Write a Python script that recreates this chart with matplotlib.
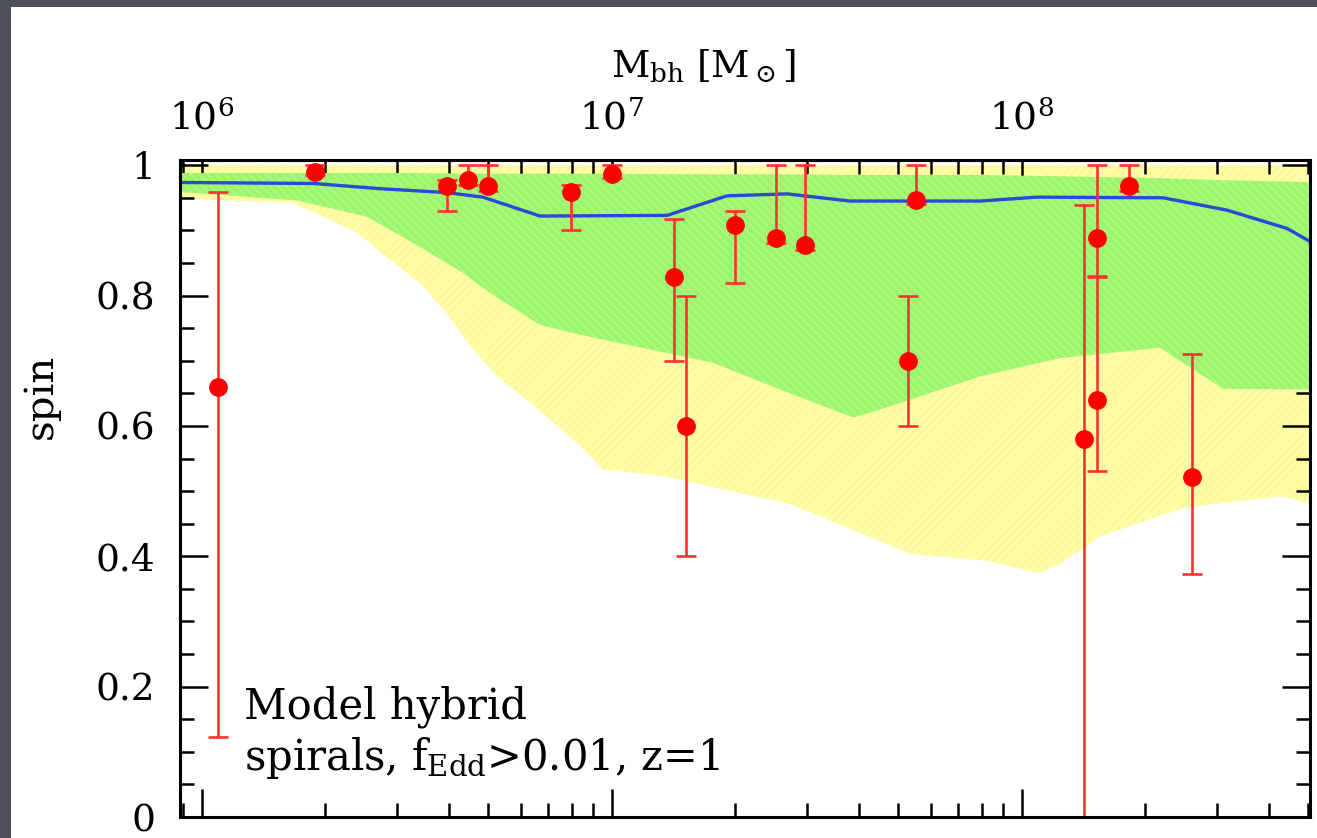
import numpy as np
import matplotlib
matplotlib.use("Agg")
import matplotlib.pyplot as plt
from matplotlib.patches import Rectangle
from matplotlib.ticker import LogLocator, LogFormatterMathtext, MultipleLocator, NullFormatter

plt.rcParams['font.family'] = ['DejaVu Serif']
plt.rcParams['mathtext.fontset'] = 'dejavuserif'
plt.rcParams['hatch.linewidth'] = 0.8

# model bands, log10(M_bh) and spin
yellow_logm = [5.947, 6.223, 6.289, 6.379, 6.452, 6.532, 6.598, 6.662, 6.720, 6.801,
               6.923, 6.979, 7.125, 7.435, 7.732, 7.918, 8.040, 8.100, 8.193, 8.398,
               8.635, 8.703]
yellow_lo = [0.949, 0.942, 0.923, 0.896, 0.859, 0.819, 0.773, 0.717, 0.676, 0.636,
             0.569, 0.533, 0.523, 0.480, 0.403, 0.393, 0.374, 0.391, 0.431, 0.475,
             0.492, 0.480]
yellow_hi = [1.0] * len(yellow_logm)

green_logm = [5.947, 6.232, 6.403, 6.515, 6.637, 6.703, 6.825, 6.923, 7.247, 7.410,
              7.589, 7.654, 7.898, 8.093, 8.337, 8.491, 8.703]
green_lo = [0.959, 0.946, 0.921, 0.881, 0.835, 0.804, 0.755, 0.740, 0.697, 0.656,
            0.613, 0.625, 0.676, 0.704, 0.720, 0.657, 0.656]
green_hi = [0.988, 0.988, 0.988, 0.988, 0.987, 0.987, 0.987, 0.987, 0.986, 0.986,
            0.985, 0.985, 0.985, 0.983, 0.980, 0.977, 0.974]

# median spin
med_logm = [5.947, 6.272, 6.435, 6.598, 6.686, 6.825, 7.135, 7.281, 7.428, 7.581,
            7.898, 8.037, 8.345, 8.501, 8.647, 8.703]
med_spin = [0.9735, 0.972, 0.964, 0.958, 0.951, 0.922, 0.923, 0.953, 0.956, 0.945,
            0.945, 0.951, 0.950, 0.931, 0.903, 0.883]

# observed spins
obs_logm = [6.039, 6.277, 6.598, 6.650, 6.699, 6.900, 7.000, 7.152, 7.182, 7.301,
            7.401, 7.472, 7.723, 7.741, 8.152, 8.183, 8.183, 8.262, 8.415]
obs_spin = [0.66, 0.99, 0.968, 0.978, 0.968, 0.959, 0.987, 0.829, 0.60, 0.908,
            0.889, 0.878, 0.70, 0.947, 0.58, 0.889, 0.64, 0.968, 0.521]
obs_lo = [0.123, 0.985, 0.93, 0.97, 0.96, 0.90, 0.98, 0.70, 0.40, 0.819,
          0.88, 0.87, 0.60, 0.94, 0.0, 0.83, 0.531, 0.96, 0.373]
obs_hi = [0.959, 1.0, 0.978, 1.0, 1.0, 0.969, 1.0, 0.918, 0.80, 0.930,
          1.0, 1.0, 0.80, 1.0, 0.939, 1.0, 0.829, 1.0, 0.711]

fig = plt.figure(figsize=(13.17, 8.38), dpi=100)
fig.patch.set_facecolor('#4c505a')
fig.add_artist(Rectangle((11/1317, 0), 1 - 11/1317, 1 - 7/838,
                         transform=fig.transFigure, facecolor='white',
                         edgecolor='none', zorder=0))

ax = fig.add_axes([180/1317, 1 - 817/838, 1130/1317, 657/838])
ax.set_facecolor('white')

ym = 10**np.array(yellow_logm)
ax.fill(np.concatenate([ym, ym[::-1]]), np.concatenate([yellow_hi, yellow_lo[::-1]]),
        facecolor='#fffb9c', edgecolor='#ffffc8', hatch='////', linewidth=0, zorder=1)
gm = 10**np.array(green_logm)
ax.fill(np.concatenate([gm, gm[::-1]]), np.concatenate([green_hi, green_lo[::-1]]),
        facecolor='#9cf66c', edgecolor='#b6fa8e', hatch='\\\\\\\\', linewidth=0, zorder=2)

ax.plot(10**np.array(med_logm), med_spin, color='#2b48d8', lw=2.4, zorder=3)

spin = np.array(obs_spin)
yerr = [spin - np.array(obs_lo), np.array(obs_hi) - spin]
ax.errorbar(10**np.array(obs_logm), spin, yerr=yerr, fmt='o', color='#ff0000',
            ecolor='#ff3030', ms=12.5, elinewidth=1.9, capsize=7, capthick=1.9,
            zorder=4)

ax.set_xscale('log')
ax.set_xlim(10**5.947, 10**8.703)
ax.set_ylim(0, 1.008)

ax.xaxis.set_major_locator(LogLocator(base=10))
ax.xaxis.set_minor_locator(LogLocator(base=10, subs=np.arange(2, 10)))
ax.xaxis.set_major_formatter(LogFormatterMathtext())
ax.xaxis.set_minor_formatter(NullFormatter())
ax.set_yticks([0, 0.2, 0.4, 0.6, 0.8, 1.0])
ax.set_yticklabels(['0', '0.2', '0.4', '0.6', '0.8', '1'])
ax.yaxis.set_minor_locator(MultipleLocator(0.05))

ax.tick_params(which='both', direction='in', top=True, right=True,
               labeltop=True, labelbottom=False, width=1.8, color='black',
               labelsize=27)
ax.tick_params(which='major', length=20)
ax.tick_params(which='minor', length=10)
ax.tick_params(axis='x', pad=16)
ax.tick_params(axis='y', pad=18)
for s in ax.spines.values():
    s.set_linewidth(2.2)
    s.set_zorder(6)

fig.text(703/1317, 1 - 77/838, r'M$_{\rm bh}$ [M$_\odot$]', ha='center',
         va='baseline', fontsize=27)
fig.text(41/1317, 1 - 396/838, 'spin', rotation=90, ha='center', va='center',
         fontsize=29)
fig.text(244/1317, 1 - 718/838, 'Model hybrid', ha='left', va='baseline',
         fontsize=30)
fig.text(244/1317, 1 - 770/838, r'spirals, f$_{\rm Edd}$>0.01, z=1', ha='left',
         va='baseline', fontsize=30)

fig.savefig('out.png', dpi=100, facecolor=fig.get_facecolor())
